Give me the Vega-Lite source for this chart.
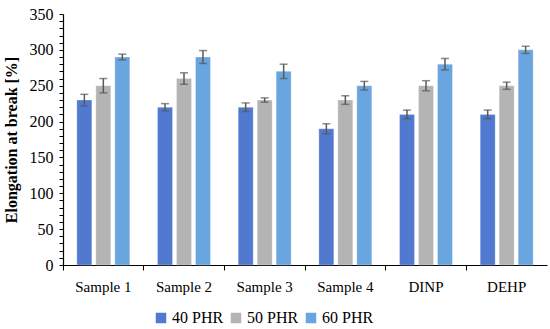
{
  "$schema": "https://vega.github.io/schema/vega-lite/v6.json",
  "width": 484,
  "height": 251,
  "padding": {"left": 3, "top": 6, "right": 5, "bottom": 5},
  "background": "white",
  "config": {
    "font": "Liberation Serif",
    "view": {"stroke": null},
    "axisY": {
      "labelOverlap": false,
      "labelBound": false,
      "labelFlush": false,
      "tickSize": 4,
      "tickColor": "#000",
      "domainColor": "#000", "domainWidth": 1.2,
      "labelFontSize": 16, "labelColor": "#000", "labelPadding": 6,
      "titleFontSize": 16, "titleFontWeight": "bold", "titleColor": "#000", "titlePadding": 10,
      "grid": false
    }
  },
  "data": {
    "values": [
      {"sample": "Sample 1", "phr": "40 PHR", "value": 230, "lo": 222, "hi": 238},
      {"sample": "Sample 1", "phr": "50 PHR", "value": 250, "lo": 240, "hi": 260},
      {"sample": "Sample 1", "phr": "60 PHR", "value": 290, "lo": 286, "hi": 294},
      {"sample": "Sample 2", "phr": "40 PHR", "value": 220, "lo": 215, "hi": 225},
      {"sample": "Sample 2", "phr": "50 PHR", "value": 260, "lo": 252, "hi": 268},
      {"sample": "Sample 2", "phr": "60 PHR", "value": 290, "lo": 281, "hi": 299},
      {"sample": "Sample 3", "phr": "40 PHR", "value": 220, "lo": 214, "hi": 226},
      {"sample": "Sample 3", "phr": "50 PHR", "value": 230, "lo": 227, "hi": 233},
      {"sample": "Sample 3", "phr": "60 PHR", "value": 270, "lo": 260, "hi": 280},
      {"sample": "Sample 4", "phr": "40 PHR", "value": 190, "lo": 183, "hi": 197},
      {"sample": "Sample 4", "phr": "50 PHR", "value": 230, "lo": 224, "hi": 236},
      {"sample": "Sample 4", "phr": "60 PHR", "value": 250, "lo": 244, "hi": 256},
      {"sample": "DINP", "phr": "40 PHR", "value": 210, "lo": 204, "hi": 216},
      {"sample": "DINP", "phr": "50 PHR", "value": 250, "lo": 243, "hi": 257},
      {"sample": "DINP", "phr": "60 PHR", "value": 280, "lo": 272, "hi": 288},
      {"sample": "DEHP", "phr": "40 PHR", "value": 210, "lo": 204, "hi": 216},
      {"sample": "DEHP", "phr": "50 PHR", "value": 250, "lo": 245, "hi": 255},
      {"sample": "DEHP", "phr": "60 PHR", "value": 300, "lo": 295, "hi": 305}
    ]
  },
  "encoding": {
    "x": {
      "field": "sample", "type": "nominal", "sort": null, "title": null,
      "scale": {"paddingInner": 0, "paddingOuter": 0},
      "axis": {
        "labelAngle": 0, "labelFontSize": 15, "labelColor": "#000", "labelPadding": 9,
        "domainColor": "#000", "domainWidth": 1.2, "tickColor": "#000", "tickSize": 5,
        "bandPosition": 0, "grid": false
      }
    },
    "xOffset": {
      "field": "phr", "type": "nominal",
      "scale": {"paddingInner": 0.21, "paddingOuter": 0.73}
    }
  },
  "layer": [
    {
      "mark": {"type": "bar", "stroke": "white", "strokeWidth": 0.3},
      "encoding": {
        "y": {
          "field": "value", "type": "quantitative",
          "title": "Elongation at break [%]",
          "scale": {"domain": [0, 350], "nice": false},
          "axis": {
            "values": [0,10,20,30,40,50,60,70,80,90,100,110,120,130,140,150,160,170,180,190,200,210,220,230,240,250,260,270,280,290,300,310,320,330,340,350],
            "labelExpr": "(datum.value % 50 == 0) ? ('' + datum.value) : ''"
          }
        },
        "color": {
          "field": "phr", "type": "nominal", "title": null,
          "scale": {"domain": ["40 PHR", "50 PHR", "60 PHR"], "range": ["#5179cf", "#b4b4b4", "#69a6e0"]},
          "legend": {
            "orient": "none", "legendX": 90, "legendY": 296, "direction": "horizontal", "symbolType": "square",
            "symbolSize": 110, "labelFontSize": 16, "labelColor": "#000", "columnPadding": 4,
            "symbolStrokeWidth": 0, "labelOffset": 3
          }
        }
      }
    },
    {
      "mark": {"type": "rule", "color": "#595959", "strokeWidth": 1.5},
      "encoding": {
        "y": {
          "field": "lo", "type": "quantitative",
          "title": "Elongation at break [%]",
          "axis": {
            "values": [0,10,20,30,40,50,60,70,80,90,100,110,120,130,140,150,160,170,180,190,200,210,220,230,240,250,260,270,280,290,300,310,320,330,340,350],
            "labelExpr": "(datum.value % 50 == 0) ? ('' + datum.value) : ''"
          }
        },
        "y2": {"field": "hi"}
      }
    },
    {
      "mark": {"type": "tick", "color": "#595959", "thickness": 1.5, "size": 8},
      "encoding": {
        "y": {
          "field": "lo", "type": "quantitative",
          "title": "Elongation at break [%]",
          "axis": {
            "values": [0,10,20,30,40,50,60,70,80,90,100,110,120,130,140,150,160,170,180,190,200,210,220,230,240,250,260,270,280,290,300,310,320,330,340,350],
            "labelExpr": "(datum.value % 50 == 0) ? ('' + datum.value) : ''"
          }
        }
      }
    },
    {
      "mark": {"type": "tick", "color": "#595959", "thickness": 1.5, "size": 8},
      "encoding": {
        "y": {
          "field": "hi", "type": "quantitative",
          "title": "Elongation at break [%]",
          "axis": {
            "values": [0,10,20,30,40,50,60,70,80,90,100,110,120,130,140,150,160,170,180,190,200,210,220,230,240,250,260,270,280,290,300,310,320,330,340,350],
            "labelExpr": "(datum.value % 50 == 0) ? ('' + datum.value) : ''"
          }
        }
      }
    }
  ]
}
